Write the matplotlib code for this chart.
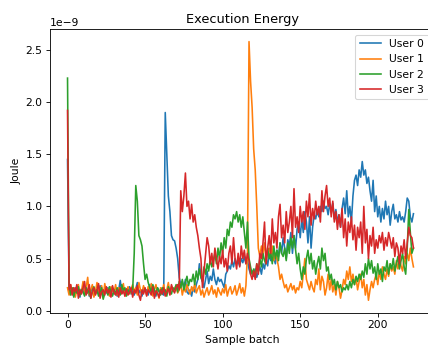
import numpy as np
import matplotlib
matplotlib.use("Agg")
import matplotlib.pyplot as plt

# energy per sample batch, in units of 1e-9 J
user0 = [1.45, 0.22, 0.18, 0.2, 0.15, 0.22, 0.17, 0.2, 0.13, 0.21,
         0.18, 0.23, 0.16, 0.2, 0.14, 0.19, 0.22, 0.15, 0.18, 0.2,
         0.16, 0.24, 0.18, 0.13, 0.2, 0.17, 0.22, 0.15, 0.19, 0.21,
         0.16, 0.18, 0.14, 0.2, 0.29, 0.17, 0.22, 0.15, 0.2, 0.18,
         0.23, 0.16, 0.19, 0.15, 0.21, 0.27, 0.17, 0.2, 0.14, 0.22,
         0.18, 0.2, 0.15, 0.25, 0.17, 0.21, 0.19, 0.14, 0.22, 0.18,
         0.2, 0.16, 0.15, 1.9, 1.5, 1.1, 0.95, 0.72, 0.68, 0.67,
         0.6, 0.5, 0.32, 0.25, 0.28, 0.22, 0.3, 0.18, 0.16, 0.2,
         0.14, 0.22, 0.18, 0.25, 0.3, 0.45, 0.32, 0.28, 0.22, 0.3,
         0.38, 0.26, 0.33, 0.29, 0.4, 0.3, 0.25, 0.32, 0.28, 0.3,
         0.26, 0.22, 0.35, 0.38, 0.43, 0.4, 0.48, 0.42, 0.5, 0.45,
         0.47, 0.43, 0.5, 0.46, 0.52, 0.45, 0.48, 0.4, 0.35, 0.38,
         0.33, 0.4, 0.32, 0.37, 0.42, 0.35, 0.45, 0.4, 0.5, 0.43,
         0.55, 0.48, 0.6, 0.5, 0.45, 0.58, 0.52, 0.65, 0.55, 0.7,
         0.6, 0.5, 0.68, 0.62, 0.75, 0.55, 0.72, 0.6, 0.78, 0.85,
         0.7, 0.88, 0.75, 0.95, 0.85, 0.65, 0.9, 0.6, 0.8, 0.92,
         0.88, 0.97, 0.9, 1.0, 0.95, 1.05, 0.98, 1.0, 0.92, 1.02,
         0.95, 1.03, 0.88, 0.97, 0.85, 0.92, 0.8, 0.98, 1.08, 0.93,
         1.15, 0.9, 1.0, 0.85, 1.1, 1.25, 1.3, 1.2, 1.35, 1.28,
         1.43, 1.3, 1.35, 1.22, 1.28, 1.15, 1.05, 1.25, 0.95, 1.1,
         0.9, 1.0, 0.85, 0.98, 0.88, 1.05, 0.92, 1.0, 0.82, 0.95,
         1.02, 0.88, 0.92, 0.85, 0.95, 0.87, 0.9, 0.85, 0.95, 1.08,
         1.05, 0.9, 0.85, 0.93]

user1 = [0.22, 0.15, 0.25, 0.18, 0.22, 0.13, 0.2, 0.25, 0.15, 0.19,
         0.28, 0.17, 0.22, 0.32, 0.15, 0.2, 0.25, 0.13, 0.18, 0.27,
         0.2, 0.15, 0.24, 0.12, 0.26, 0.18, 0.21, 0.14, 0.23, 0.19,
         0.17, 0.25, 0.15, 0.22, 0.18, 0.2, 0.26, 0.14, 0.19, 0.23,
         0.16, 0.21, 0.25, 0.18, 0.22, 0.15, 0.27, 0.2, 0.17, 0.24,
         0.19, 0.15, 0.23, 0.18, 0.26, 0.14, 0.2, 0.25, 0.17, 0.12,
         0.22, 0.18, 0.25, 0.15, 0.2, 0.27, 0.16, 0.23, 0.19, 0.21,
         0.24, 0.17, 0.2, 0.26, 0.15, 0.22, 0.18, 0.25, 0.2, 0.16,
         0.23, 0.19, 0.26, 0.17, 0.21, 0.24, 0.15, 0.2, 0.13, 0.18,
         0.22, 0.15, 0.19, 0.24, 0.16, 0.2, 0.13, 0.22, 0.18, 0.15,
         0.21, 0.17, 0.25, 0.14, 0.2, 0.23, 0.16, 0.19, 0.24, 0.15,
         0.2, 0.26, 0.17, 0.22, 0.14, 0.24, 0.55, 2.58, 2.2, 1.95,
         1.55, 1.35, 1.0, 0.6, 0.52, 0.62, 0.55, 0.65, 0.5, 0.58,
         0.6, 0.52, 0.62, 0.48, 0.55, 0.5, 0.42, 0.3, 0.35, 0.28,
         0.22, 0.25, 0.18, 0.22, 0.26, 0.2, 0.24, 0.17, 0.22, 0.2,
         0.28, 0.22, 0.35, 0.5, 0.3, 0.25, 0.2, 0.28, 0.22, 0.18,
         0.3, 0.25, 0.4, 0.2, 0.33, 0.28, 0.15, 0.22, 0.35, 0.2,
         0.3, 0.18, 0.25, 0.15, 0.28, 0.22, 0.12, 0.2, 0.3, 0.25,
         0.38, 0.3, 0.42, 0.28, 0.35, 0.25, 0.32, 0.2, 0.28, 0.35,
         0.22, 0.3, 0.15, 0.25, 0.1, 0.2, 0.28, 0.22, 0.3, 0.35,
         0.25, 0.38, 0.3, 0.42, 0.35, 0.3, 0.4, 0.33, 0.45, 0.38,
         0.42, 0.35, 0.48, 0.4, 0.5, 0.43, 0.38, 0.52, 0.45, 0.55,
         0.48, 0.6, 0.5, 0.42]

user2 = [2.23, 0.25, 0.15, 0.22, 0.13, 0.2, 0.17, 0.23, 0.15, 0.2,
         0.18, 0.14, 0.22, 0.17, 0.2, 0.12, 0.19, 0.23, 0.16, 0.2,
         0.14, 0.18, 0.22, 0.11, 0.17, 0.2, 0.15, 0.23, 0.18, 0.14,
         0.2, 0.16, 0.22, 0.18, 0.15, 0.25, 0.19, 0.22, 0.14, 0.2,
         0.17, 0.21, 0.2, 0.55, 1.2, 1.05, 0.72, 0.68, 0.62, 0.45,
         0.3, 0.35, 0.27, 0.22, 0.18, 0.25, 0.2, 0.16, 0.22, 0.19,
         0.15, 0.22, 0.18, 0.2, 0.14, 0.23, 0.19, 0.16, 0.22, 0.2,
         0.25, 0.18, 0.28, 0.22, 0.3, 0.2, 0.27, 0.33, 0.24, 0.3,
         0.28, 0.35, 0.25, 0.38, 0.3, 0.4, 0.32, 0.28, 0.42, 0.35,
         0.45, 0.38, 0.5, 0.42, 0.48, 0.55, 0.45, 0.6, 0.5, 0.65,
         0.55, 0.7, 0.6, 0.78, 0.72, 0.85, 0.8, 0.92, 0.88, 0.95,
         0.85, 0.92, 0.8, 0.9, 0.75, 0.6, 0.85, 0.5, 0.42, 0.35,
         0.4, 0.33, 0.45, 0.38, 0.5, 0.42, 0.55, 0.48, 0.45, 0.6,
         0.5, 0.55, 0.45, 0.62, 0.5, 0.58, 0.48, 0.65, 0.55, 0.52,
         0.6, 0.48, 0.65, 0.55, 0.7, 0.6, 0.72, 0.58, 0.45, 0.55,
         0.4, 0.3, 0.42, 0.35, 0.5, 0.58, 0.45, 0.55, 0.4, 0.48,
         0.35, 0.45, 0.52, 0.4, 0.6, 0.48, 0.55, 0.38, 0.42, 0.3,
         0.35, 0.25, 0.3, 0.2, 0.28, 0.22, 0.25, 0.18, 0.22, 0.2,
         0.25, 0.2, 0.28, 0.22, 0.3, 0.25, 0.33, 0.28, 0.35, 0.3,
         0.38, 0.32, 0.45, 0.35, 0.5, 0.4, 0.48, 0.36, 0.42, 0.3,
         0.45, 0.35, 0.4, 0.28, 0.42, 0.38, 0.48, 0.35, 0.45, 0.4,
         0.5, 0.38, 0.45, 0.52, 0.4, 0.48, 0.55, 0.42, 0.35, 0.6,
         0.97, 0.75, 0.55, 0.6]

user3 = [1.92, 0.2, 0.25, 0.15, 0.22, 0.18, 0.25, 0.12, 0.2, 0.16,
         0.22, 0.28, 0.15, 0.2, 0.25, 0.12, 0.18, 0.22, 0.15, 0.2,
         0.26, 0.12, 0.18, 0.2, 0.15, 0.23, 0.17, 0.2, 0.13, 0.24,
         0.18, 0.15, 0.2, 0.13, 0.22, 0.16, 0.19, 0.14, 0.21, 0.15,
         0.18, 0.22, 0.13, 0.2, 0.17, 0.24, 0.15, 0.1, 0.2, 0.16,
         0.22, 0.14, 0.2, 0.18, 0.15, 0.23, 0.12, 0.19, 0.17, 0.13,
         0.2, 0.16, 0.22, 0.14, 0.18, 0.21, 0.15, 0.25, 0.2, 0.17,
         0.22, 0.25, 0.2, 1.15, 0.95, 1.1, 1.32, 1.0, 1.05, 0.88,
         1.02, 0.85, 0.92, 0.8, 0.72, 0.6, 0.5, 0.22, 0.38, 0.55,
         0.7, 0.62, 0.45, 0.55, 0.42, 0.6, 0.5, 0.4, 0.52, 0.45,
         0.58, 0.42, 0.5, 0.38, 0.55, 0.62, 0.45, 0.7, 0.5, 0.4,
         0.55, 0.42, 0.62, 0.5, 0.58, 0.45, 0.55, 0.48, 0.35, 0.3,
         0.38, 0.3, 0.45, 0.35, 0.55, 0.5, 0.65, 0.85, 0.45, 0.6,
         0.72, 0.55, 0.88, 0.65, 0.75, 0.6, 0.9, 1.02, 0.7, 0.82,
         0.65, 0.95, 0.75, 0.85, 1.0, 0.7, 1.17, 0.8, 0.9, 0.75,
         1.0, 0.85, 0.95, 0.78, 1.05, 0.9, 1.12, 0.82, 0.98, 0.88,
         1.05, 0.92, 1.0, 0.85, 1.15, 0.95, 1.1, 1.2, 1.0, 1.08,
         0.9, 1.05, 0.85, 0.95, 0.78, 0.92, 0.8, 0.98, 0.7, 0.88,
         0.62, 0.85, 0.75, 0.9, 0.68, 0.82, 0.58, 0.8, 0.7, 0.85,
         0.55, 1.0, 0.65, 0.78, 0.5, 0.72, 0.62, 0.8, 0.55, 0.68,
         0.6, 0.72, 0.65, 0.75, 0.58, 0.7, 0.62, 0.75, 0.68, 0.6,
         0.7, 0.52, 0.65, 0.6, 0.45, 0.62, 0.55, 0.68, 0.5, 0.65,
         0.8, 0.72, 0.7, 0.6]

series = [user0, user1, user2, user3]
labels = ["User 0", "User 1", "User 2", "User 3"]

# original figure was rendered larger and scaled down, so use a low dpi
dpi = 77
fig = plt.figure(figsize=(428 / dpi, 347 / dpi), dpi=dpi)
ax = fig.add_axes([0.117, 0.098, 0.897, 0.8176])

for vals, lab in zip(series, labels):
    y = np.array(vals) * 1e-9
    ax.plot(np.arange(len(y)), y, label=lab)

ax.set_xlim(-11.25, 236.25)
ax.set_ylim(-0.022e-9, 2.698e-9)
ax.set_title("Execution Energy")
ax.set_xlabel("Sample batch")
ax.set_ylabel("Joule")
ax.legend(loc="upper right")

fig.savefig("out.png", dpi=dpi)
